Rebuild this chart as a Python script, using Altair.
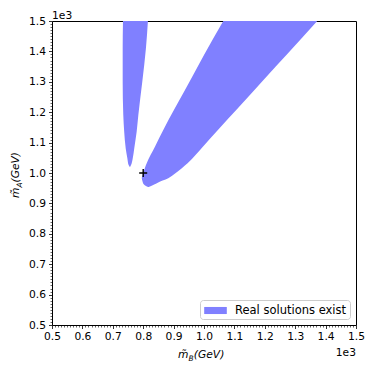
import altair as alt
import pandas as pd

# ---- data (GeV) ----
# narrow region: for each m_A value, left and right m_B boundary
narrow_mA = [1019, 1026, 1048, 1081, 1136, 1191, 1300, 1410, 1500]
narrow_left = [756.5, 752, 748, 742.5, 737.5, 734.5, 732.5, 732.5, 733.5]
narrow_right = [756.5, 760, 765.5, 770.5, 778.5, 784, 797, 809, 815.5]

# wide region
wide_mA = [954, 957, 962, 968, 975, 983, 1000, 1015, 1032, 1087, 1147, 1207, 1273, 1350, 1388, 1500]
wide_left = [816, 809, 802.5, 799, 797, 795.5, 800, 805, 811.5, 839, 869, 901, 937.5, 979.5, 1000, 1063.5]
wide_right = [818, 826, 836, 848, 864, 882.5, 907, 926, 946, 997, 1051, 1106, 1166, 1236, 1271, 1372.5]

point_mB = [800]
point_mA = [1000]

legend_label = "Real solutions exist"
major_ticks = [500, 600, 700, 800, 900, 1000, 1100, 1200, 1300, 1400, 1500]
minor_ticks = [v for v in range(500, 1501, 10) if v % 100 != 0]

FONT = "DejaVu Sans"
FS = 10.7
COLOR = "#8080ff"

rows = []
for y, l, r in zip(narrow_mA, narrow_left, narrow_right):
    rows.append({"region": "narrow", "mA": y, "xl": l, "xr": r, "label": legend_label})
for y, l, r in zip(wide_mA, wide_left, wide_right):
    rows.append({"region": "wide", "mA": y, "xl": l, "xr": r, "label": legend_label})
regions_df = pd.DataFrame(rows)
point_df = pd.DataFrame({"mB": point_mB, "mA": point_mA})

xscale = alt.Scale(domain=[500, 1500], nice=False, zero=False)
yscale = alt.Scale(domain=[500, 1500], nice=False, zero=False)

axis_common = dict(domain=False, grid=False, tickColor="black", labelColor="black",
                   labelFont=FONT, labelFontSize=FS, labelFlush=False, labelOverlap=False,
                   title=None)

major_x = alt.Axis(orient="bottom", values=major_ticks, tickSize=3.5, tickWidth=0.8,
                   labelPadding=3, labelExpr="format(datum.value/1000, '.1f')", **axis_common)
major_y = alt.Axis(orient="left", values=major_ticks, tickSize=3.5, tickWidth=0.8,
                   labelPadding=3, labelExpr="format(datum.value/1000, '.1f')", **axis_common)
minor_x = alt.Axis(orient="bottom", values=minor_ticks, tickSize=2, tickWidth=0.6,
                   labels=False, **axis_common)
minor_y = alt.Axis(orient="left", values=minor_ticks, tickSize=2, tickWidth=0.6,
                   labels=False, **axis_common)

areas = alt.Chart(regions_df).mark_area(orient="horizontal", opacity=1, interpolate="monotone").encode(
    y=alt.Y("mA:Q", scale=yscale, axis=major_y),
    x=alt.X("xl:Q", scale=xscale, axis=major_x),
    x2="xr:Q",
    detail="region:N",
    color=alt.Color("label:N", scale=alt.Scale(range=[COLOR]),
                    legend=alt.Legend(title=None, orient="bottom-right", offset=6,
                                      symbolType="M-1.6,-0.5H1.6V0.5H-1.6Z", symbolSize=200,
                                      symbolStrokeWidth=0, symbolOpacity=1,
                                      labelFont=FONT, labelFontSize=11.5, labelColor="black",
                                      padding=3, strokeColor="#cccccc", fillColor="white",
                                      cornerRadius=3, symbolOffset=5, labelOffset=12)),
)

plus = alt.Chart(point_df).mark_point(shape="M-1,0H1M0,-1V1", filled=False, stroke="black",
                                      strokeWidth=1.4, size=64, opacity=1).encode(
    x=alt.X("mB:Q", scale=xscale, axis=minor_x),
    y=alt.Y("mA:Q", scale=yscale, axis=minor_y),
)

def txt(text, x, y, size=FS, italic=False, angle=0, align="left"):
    kw = dict(font=FONT, fontSize=size, color="black", align=align, baseline="alphabetic", angle=angle)
    if italic:
        kw["fontStyle"] = "italic"
    return alt.Chart(pd.DataFrame({"t": [text]})).mark_text(**kw).encode(
        text="t:N", x=alt.value(x), y=alt.value(y))

texts = [
    txt("1e3", 0, -2.5),
    txt("1e3", 304, 335, align="right"),
    txt("m\u0303", 126, 337, italic=True),
    txt("B", 136.5, 340, size=7.5, italic=True),
    txt("(GeV)", 141.8, 337, italic=True),
    txt("m\u0303", -33, 177, italic=True, angle=270),
    txt("A", -30, 166.6, size=7.5, italic=True, angle=270),
    txt("(GeV)", -33, 161.5, italic=True, angle=270),
]

chart = alt.layer(areas, plus, *texts).resolve_axis(x="independent", y="independent").properties(
    width=304, height=304,
    padding={"left": 44, "top": 13, "right": 10, "bottom": 40},
    autosize=alt.AutoSizeParams(type="none"),
).configure_view(stroke="black", strokeWidth=1)

chart.save("out.html", embed_options={"renderer": "svg", "actions": False})
